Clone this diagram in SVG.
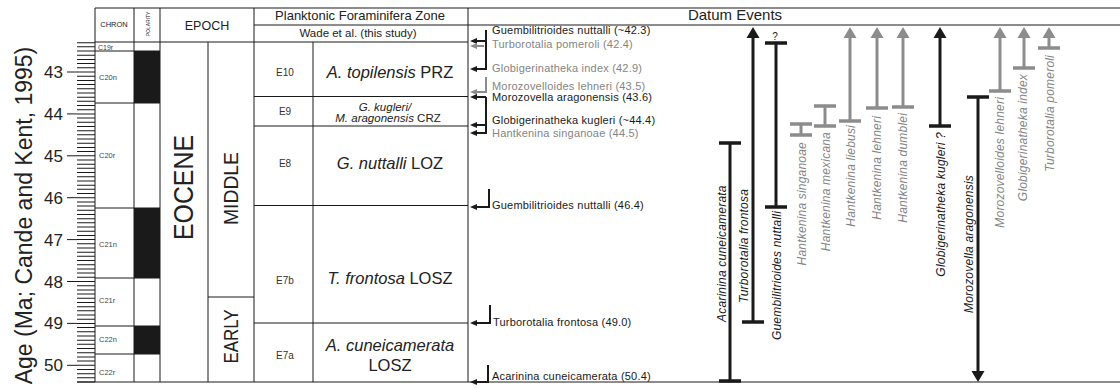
<svg xmlns="http://www.w3.org/2000/svg" width="1120" height="388" viewBox="0 0 1120 388">
<defs>
<style>
.ln{stroke:#1a1a1a;stroke-width:1;fill:none}
.t{font-family:"Liberation Sans",Arial,Helvetica,sans-serif;fill:#222}
.k{fill:#1a1a1a}
.g{fill:#858585}
.bk{stroke:#1a1a1a;stroke-width:3;fill:none}
.bg{stroke:#8c8c8c;stroke-width:3;fill:none}
.cap{stroke-width:3.5}
.dk{stroke:#1a1a1a;stroke-width:2;fill:none}
.dg{stroke:#8c8c8c;stroke-width:2;fill:none}
.dl{font-size:11px;letter-spacing:0.2px}
.rl{font-size:12px;font-style:italic;letter-spacing:0.2px}
.zn{font-size:16.5px}
.ch{font-size:7.5px;fill:#444}
.ez{font-size:10px;fill:#333}
</style>
<marker id="upk" markerUnits="userSpaceOnUse" markerWidth="12" markerHeight="14" refX="0" refY="6.5" orient="auto" overflow="visible"><path d="M0,0 L11,6.5 L0,13 z" fill="#1a1a1a"/></marker>
<marker id="upg" markerUnits="userSpaceOnUse" markerWidth="12" markerHeight="14" refX="0" refY="6.5" orient="auto" overflow="visible"><path d="M0,0 L11,6.5 L0,13 z" fill="#8c8c8c"/></marker>
<marker id="lk" markerUnits="userSpaceOnUse" markerWidth="8" markerHeight="7" refX="0" refY="3" orient="auto" overflow="visible"><path d="M0,0 L7,3 L0,6 z" fill="#1a1a1a"/></marker>
<marker id="lg" markerUnits="userSpaceOnUse" markerWidth="8" markerHeight="7" refX="0" refY="3" orient="auto" overflow="visible"><path d="M0,0 L7,3 L0,6 z" fill="#8c8c8c"/></marker>
</defs>
<rect width="1120" height="388" fill="#fff"/>

<g id="age-axis">
<text class="t" transform="translate(32,215.5) rotate(-90)" text-anchor="middle" font-size="23" fill="#333">Age (Ma; Cande and Kent, 1995)</text>
<path d="M86 42.17V382.6" stroke="#1a1a1a" stroke-width="18" stroke-dasharray="1 3.19" fill="none"/>
<path class="ln" d="M67 72H77M67 113.9H77M67 155.8H77M67 197.7H77M67 239.6H77M67 281.5H77M67 323.4H77M67 365.3H77"/>
<g class="t" font-size="17" text-anchor="end" fill="#333">
<text x="63" y="78">43</text>
<text x="63" y="119.9">44</text>
<text x="63" y="161.8">45</text>
<text x="63" y="203.7">46</text>
<text x="63" y="245.6">47</text>
<text x="63" y="287.5">48</text>
<text x="63" y="329.4">49</text>
<text x="63" y="371.3">50</text>
</g>
</g>

<g id="frame">
<path class="ln" d="M95 8H1120M254 25H1120M95 42H468M77 382H1120M95 8V382M134 8V382M160 8V382M208 42V382M254 8V382M313 42V382M468 8V382"/>
</g>

<g id="chron">
<text class="t" x="114" y="27" font-size="7.5" text-anchor="middle" fill="#333">CHRON</text>
<text class="t" transform="translate(149.5,24) rotate(-90)" font-size="5" text-anchor="middle" fill="#333">POLARITY</text>
<path class="ln" d="M95 51H160M95 103H160M95 208H160M95 278H160M95 326H160M95 354H160"/>
<rect x="134" y="51" width="26" height="52" class="k"/>
<rect x="134" y="208" width="26" height="70" class="k"/>
<rect x="134" y="326" width="26" height="28" class="k"/>
<g class="t ch">
<text x="98" y="49.5" font-size="7">C19r</text>
<text x="99" y="79.5">C20n</text>
<text x="99" y="158">C20r</text>
<text x="99" y="247">C21n</text>
<text x="99" y="303">C21r</text>
<text x="99" y="342">C22n</text>
<text x="99" y="375">C22r</text>
</g>
</g>

<g id="epoch">
<text class="t" x="207" y="30" font-size="12.5" text-anchor="middle" fill="#333">EPOCH</text>
<path class="ln" d="M208 297H254"/>
<text class="t" transform="translate(193,187.5) rotate(-90)" text-anchor="middle" font-size="27" textLength="105" lengthAdjust="spacingAndGlyphs">EOCENE</text>
<text class="t" transform="translate(238,188.5) rotate(-90)" text-anchor="middle" font-size="20" textLength="73" lengthAdjust="spacingAndGlyphs">MIDDLE</text>
<text class="t" transform="translate(238,336.5) rotate(-90)" text-anchor="middle" font-size="20" textLength="54" lengthAdjust="spacingAndGlyphs">EARLY</text>
</g>

<g id="zones">
<text class="t" x="360" y="20" font-size="13" text-anchor="middle" fill="#333">Planktonic Foraminifera Zone</text>
<text class="t" x="358" y="37" font-size="11.5" text-anchor="middle" fill="#333">Wade et al. (this study)</text>
<path class="ln" d="M254 96.5H468M254 126H468M254 205.5H468M254 323H468"/>
<g class="t ez" text-anchor="middle">
<text x="285" y="76">E10</text>
<text x="285" y="114.5">E9</text>
<text x="285" y="167">E8</text>
<text x="285" y="284">E7b</text>
<text x="285" y="359">E7a</text>
</g>
<g class="t zn" text-anchor="middle" fill="#333">
<text x="390" y="78"><tspan font-style="italic">A. topilensis</tspan> PRZ</text>
<text x="390" y="169"><tspan font-style="italic">G. nuttalli</tspan> LOZ</text>
<text x="390" y="284"><tspan font-style="italic">T. frontosa</tspan> LOSZ</text>
<text x="390" y="351" font-style="italic">A. cuneicamerata</text>
<text x="390" y="371">LOSZ</text>
</g>
<g class="t" font-size="11.5" text-anchor="middle" fill="#333">
<text x="385" y="110.5" font-style="italic">G. kugleri/</text>
<text x="388" y="122"><tspan font-style="italic">M. aragonensis</tspan> CRZ</text>
</g>
</g>

<g id="datum-header">
<text class="t" x="735" y="20" font-size="15" text-anchor="middle" fill="#333">Datum Events</text>
</g>

<g id="datum-connectors">
<path class="dk" d="M486 30V69H477" marker-end="url(#lk)"/>
<path class="dk" d="M486 41H477" marker-end="url(#lk)"/>
<path class="dg" d="M484 46H477" marker-end="url(#lg)"/>
<path class="dg" d="M486 77V92H477" marker-end="url(#lg)"/>
<path class="dk" d="M486 97V133H477" marker-end="url(#lk)"/>
<path class="dk" d="M486 97H477" marker-end="url(#lk)"/>
<path class="dk" d="M486 125H477" marker-end="url(#lk)"/>
<path class="dk" d="M489 189V207H477" marker-end="url(#lk)"/>
<path class="dk" d="M490 305V323H477" marker-end="url(#lk)"/>
<path class="dk" d="M488 365V382H477" marker-end="url(#lk)"/>
</g>

<g id="datum-list" class="t dl">
<text x="492" y="34" class="k">Guembilitrioides nuttalli (~42.3)</text>
<text x="492" y="48" class="g">Turborotalia pomeroli (42.4)</text>
<text x="492" y="72" class="g">Globigerinatheka index (42.9)</text>
<text x="492" y="89.5" class="g">Morozovelloides lehneri (43.5)</text>
<text x="492" y="100.5" class="k">Morozovella aragonensis (43.6)</text>
<text x="492" y="124" class="k">Globigerinatheka kugleri (~44.4)</text>
<text x="492" y="137" class="g">Hantkenina singanoae (44.5)</text>
<text x="492" y="209" class="k">Guembilitrioides nuttalli (46.4)</text>
<text x="493" y="326" class="k">Turborotalia frontosa (49.0)</text>
<text x="492" y="380" class="k">Acarinina cuneicamerata (50.4)</text>
</g>

<g id="range-acarinina">
<path class="bk" d="M730 143V382"/>
<path class="bk cap" d="M719 143h22M719 381h22"/>
<text class="t rl k" transform="translate(726,322) rotate(-90)">Acarinina cuneicamerata</text>
</g>
<g id="range-turborotalia-frontosa">
<path class="bk" d="M753 322V38" marker-end="url(#upk)"/>
<path class="bk cap" d="M742 322h22"/>
<text class="t rl k" transform="translate(747.5,303) rotate(-90)">Turborotalia frontosa</text>
</g>
<g id="range-guembilitrioides">
<path class="bk" d="M776 43V207"/>
<path class="bk cap" d="M765 43h22M765 207h22"/>
<text class="t k" x="775" y="40" font-size="10" text-anchor="middle">?</text>
<text class="t rl k" transform="translate(781,211) rotate(-90)" text-anchor="end">Guembilitrioides nuttalli</text>
</g>
<g id="range-h-singanoae">
<path class="bg" d="M801 124V135"/>
<path class="bg cap" d="M790 124h22M790 135h22"/>
<text class="t rl g" transform="translate(806,142) rotate(-90)" text-anchor="end">Hantkenina singanoae</text>
</g>
<g id="range-h-mexicana">
<path class="bg" d="M825 106V126"/>
<path class="bg cap" d="M814 106h22M814 126h22"/>
<text class="t rl g" transform="translate(829.5,132) rotate(-90)" text-anchor="end">Hantkenina  mexicana</text>
</g>
<g id="range-h-liebusi">
<path class="bg" d="M850 121V38" marker-end="url(#upg)"/>
<path class="bg cap" d="M839 121h22"/>
<text class="t rl g" transform="translate(855,125) rotate(-90)" text-anchor="end">Hantkenina liebusi</text>
</g>
<g id="range-h-lehneri">
<path class="bg" d="M877 108V38" marker-end="url(#upg)"/>
<path class="bg cap" d="M866 108h22"/>
<text class="t rl g" transform="translate(880.5,116) rotate(-90)" text-anchor="end">Hantkenina lehneri</text>
</g>
<g id="range-h-dumblei">
<path class="bg" d="M903 107V38" marker-end="url(#upg)"/>
<path class="bg cap" d="M892 107h22"/>
<text class="t rl g" transform="translate(906.5,113) rotate(-90)" text-anchor="end">Hantkenina dumblei</text>
</g>
<g id="range-g-kugleri">
<path class="bk" d="M940 126V38" marker-end="url(#upk)"/>
<path class="bk cap" d="M929 126h22"/>
<text class="t rl k" transform="translate(945,132) rotate(-90)" text-anchor="end">Globigerinatheka kugleri ?</text>
</g>
<g id="range-m-aragonensis">
<path class="bk" d="M978 97V371" marker-end="url(#upk)"/>
<path class="bk cap" d="M967 97h22"/>
<text class="t rl k" transform="translate(973,313) rotate(-90)">Morozovella aragonensis</text>
</g>
<g id="range-morozovelloides-lehneri">
<path class="bg" d="M1000 91V38" marker-end="url(#upg)"/>
<path class="bg cap" d="M989 91h22"/>
<text class="t rl g" transform="translate(1003.5,97) rotate(-90)" text-anchor="end">Morozovelloides lehneri</text>
</g>
<g id="range-g-index">
<path class="bg" d="M1024 68V38" marker-end="url(#upg)"/>
<path class="bg cap" d="M1013 68h22"/>
<text class="t rl g" transform="translate(1027,74) rotate(-90)" text-anchor="end">Globigerinatheka index</text>
</g>
<g id="range-t-pomeroli">
<path class="bg" d="M1049 48V38" marker-end="url(#upg)"/>
<path class="bg cap" d="M1038 48h22"/>
<text class="t rl g" transform="translate(1054,55) rotate(-90)" text-anchor="end">Turborotalia pomeroli</text>
</g>
</svg>
